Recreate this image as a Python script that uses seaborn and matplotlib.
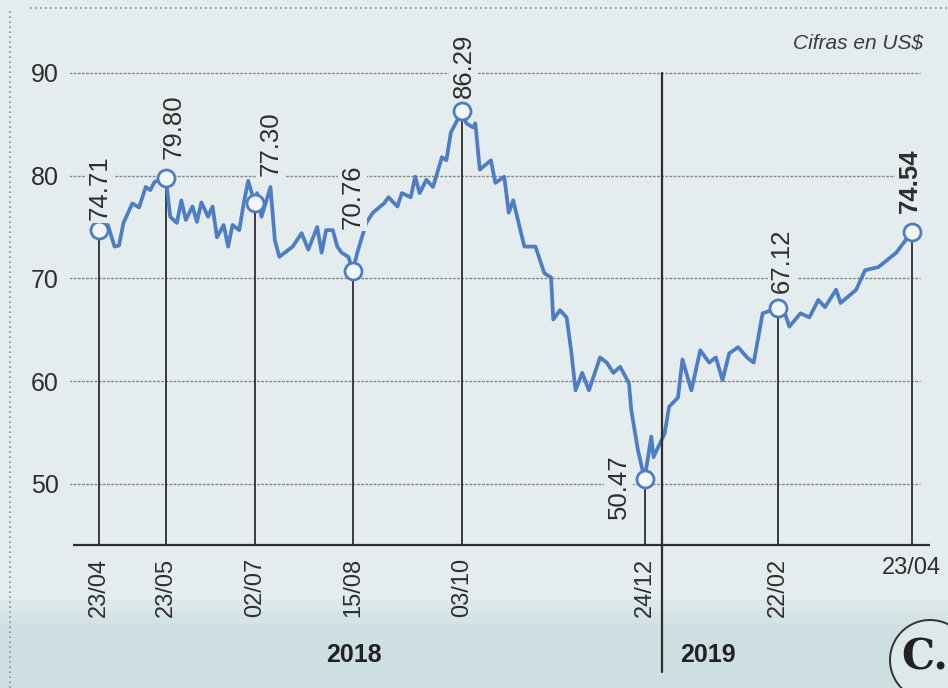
import pandas as pd
import matplotlib.pyplot as plt
import matplotlib.patches as mpatches
import matplotlib.lines as mlines
import seaborn as sns

# Daily price, US$
dates = [
    '2018-04-23', '2018-04-27', '2018-04-30', '2018-05-02', '2018-05-04', '2018-05-08',
    '2018-05-11', '2018-05-14', '2018-05-16', '2018-05-18', '2018-05-23', '2018-05-25',
    '2018-05-28', '2018-05-30', '2018-06-01', '2018-06-04', '2018-06-06', '2018-06-08',
    '2018-06-11', '2018-06-13', '2018-06-15', '2018-06-18', '2018-06-20', '2018-06-22',
    '2018-06-25', '2018-06-27', '2018-06-29', '2018-07-02', '2018-07-03', '2018-07-05',
    '2018-07-09', '2018-07-11', '2018-07-13', '2018-07-19', '2018-07-23', '2018-07-26',
    '2018-07-30', '2018-08-01', '2018-08-03', '2018-08-06', '2018-08-08', '2018-08-10',
    '2018-08-13', '2018-08-15', '2018-08-17', '2018-08-21', '2018-08-24', '2018-08-29',
    '2018-08-31', '2018-09-04', '2018-09-06', '2018-09-10', '2018-09-12', '2018-09-14',
    '2018-09-17', '2018-09-20', '2018-09-24', '2018-09-26', '2018-09-28', '2018-10-03',
    '2018-10-05', '2018-10-08', '2018-10-09', '2018-10-11', '2018-10-16', '2018-10-18',
    '2018-10-22', '2018-10-24', '2018-10-26', '2018-10-31', '2018-11-05', '2018-11-09',
    '2018-11-12', '2018-11-13', '2018-11-16', '2018-11-19', '2018-11-21', '2018-11-23',
    '2018-11-26', '2018-11-29', '2018-12-04', '2018-12-07', '2018-12-10', '2018-12-13',
    '2018-12-17', '2018-12-18', '2018-12-21', '2018-12-24', '2018-12-27', '2018-12-28',
    '2019-01-02', '2019-01-04', '2019-01-08', '2019-01-10', '2019-01-14', '2019-01-18',
    '2019-01-22', '2019-01-25', '2019-01-28', '2019-01-31', '2019-02-04', '2019-02-08',
    '2019-02-11', '2019-02-15', '2019-02-22', '2019-02-25', '2019-02-27', '2019-03-04',
    '2019-03-08', '2019-03-12', '2019-03-15', '2019-03-20', '2019-03-22', '2019-03-29',
    '2019-04-02', '2019-04-08', '2019-04-12', '2019-04-16', '2019-04-23',
]
prices = [
    74.71, 75.2, 73.1, 73.2, 75.4, 77.3,
    76.9, 78.9, 78.6, 79.4, 79.80, 76.0,
    75.4, 77.6, 75.7, 77.0, 75.5, 77.4,
    76.0, 77.0, 74.0, 75.2, 73.1, 75.2,
    74.7, 77.3, 79.5, 77.30, 78.3, 76.0,
    78.9, 73.7, 72.1, 73.1, 74.4, 72.8,
    75.0, 72.5, 74.7, 74.7, 73.1, 72.5,
    72.1, 70.76, 72.5, 75.4, 76.4, 77.3,
    77.9, 77.0, 78.3, 77.9, 79.9, 78.3,
    79.6, 78.9, 81.8, 81.5, 84.2, 86.29,
    85.1, 84.7, 85.1, 80.6, 81.5, 79.3,
    79.9, 76.4, 77.6, 73.1, 73.1, 70.5,
    70.1, 66.0, 66.9, 66.2, 63.0, 59.1,
    60.8, 59.1, 62.3, 61.8, 60.8, 61.4,
    59.8, 57.2, 53.3, 50.47, 54.6, 52.6,
    54.9, 57.5, 58.4, 62.1, 59.1, 63.0,
    61.8, 62.3, 60.1, 62.7, 63.3, 62.3,
    61.8, 66.6, 67.12, 66.6, 65.3, 66.6,
    66.2, 67.9, 67.2, 68.9, 67.6, 68.9,
    70.8, 71.1, 71.8, 72.5, 74.54,
]

# Highlighted points
key_dates = ['2018-04-23', '2018-05-23', '2018-07-02', '2018-08-15',
             '2018-10-03', '2018-12-24', '2019-02-22', '2019-04-23']
key_values = [74.71, 79.80, 77.30, 70.76, 86.29, 50.47, 67.12, 74.54]
tick_labels = ['23/04', '23/05', '02/07', '15/08', '03/10', '24/12', '22/02', '23/04']
y_ticks = [50, 60, 70, 80, 90]
years = ['2018', '2019']

df = pd.DataFrame({'date': pd.to_datetime(dates), 'price': prices})
key_df = pd.DataFrame({'date': pd.to_datetime(key_dates), 'price': key_values})

bg = '#e4ecee'
ink = '#2e2e2e'
blue = '#4d7ec4'

sns.set_theme(style='white')
plt.rcParams['font.family'] = ['Liberation Sans', 'DejaVu Sans']

fig = plt.figure(figsize=(9.48, 6.88), dpi=100, facecolor=bg)

# paper shading at the bottom (soft) + dotted cut borders
for k, c in enumerate(['#dbe7e8', '#d4e3e4', '#cddfe0']):
    h = (88 - 12 * k) / 688
    fig.patches.append(mpatches.Rectangle((0, 0), 1, h, transform=fig.transFigure,
                                          color=c, zorder=-10 + k))
fig.lines.append(mlines.Line2D([30 / 948, 1], [1 - 8 / 688] * 2, transform=fig.transFigure,
                               color='#8a8f90', lw=1.2, ls=(0, (1, 2))))
fig.lines.append(mlines.Line2D([10 / 948] * 2, [0, 1 - 8 / 688], transform=fig.transFigure,
                               color='#8a8f90', lw=1.2, ls=(0, (1, 2))))

ax = fig.add_axes([70 / 948, 143 / 688, 865 / 948, 525 / 688])
ax.set_facecolor('none')

start = pd.Timestamp(key_dates[0])
day = pd.Timedelta(days=1)
ybot = 44.04
ax.set_xlim(start - 13.0 * day, start + 375.4 * day)
ax.set_ylim(ybot, 95.16)

# grid lines and baseline
ax.hlines(y_ticks, start - 13.5 * day, start + 368.6 * day, color='#868686',
          lw=1.0, ls=(0, (2, 1)), zorder=1)
ax.hlines(ybot, start - 11.7 * day, start + 373.2 * day, color=ink, lw=1.6,
          clip_on=False, zorder=2)

# drop lines from highlighted points
ax.vlines(key_df['date'], ybot, key_df['price'], color=ink, lw=1.3, zorder=2)

# year divider
jan1 = pd.Timestamp('2019-01-01')
ax.plot([jan1, jan1], [90, 31.67], color=ink, lw=1.6, clip_on=False, zorder=4)

sns.lineplot(data=df, x='date', y='price', color=blue, lw=2.7, ax=ax, zorder=3)
sns.scatterplot(data=key_df, x='date', y='price', s=150, color='#f2f6f7',
                edgecolor=blue, linewidth=2, ax=ax, zorder=5)

# value labels
offsets = [(0.7, 7), (5.8, 13.7), (11.5, 20), (0, 30), (1.4, 9.4), (-18.7, -5.8),
           (2.9, 10.8), (-1.4, 13.7)]
for i, (d, v) in enumerate(zip(key_df['date'], key_values)):
    dx, dy = offsets[i]
    va = 'center' if i == 5 else 'bottom'
    ax.annotate(f'{v:.2f}', (d, v), xytext=(dx, dy), textcoords='offset points',
                rotation=90, ha='center', va=va, fontsize=18.5, color=ink,
                fontweight='bold' if i == len(key_values) - 1 else 'normal',
                bbox=dict(boxstyle='square,pad=0.1', fc=bg, ec='none'), zorder=6)

ax.set_xticks(key_df['date'])
ax.set_xticklabels(tick_labels, rotation=90)
ax.get_xticklabels()[-1].set_rotation(0)
ax.set_yticks(y_ticks)
ax.tick_params(axis='both', length=0, colors=ink, labelsize=18)
ax.tick_params(axis='x', pad=9, labelsize=17)
ax.tick_params(axis='y', pad=8)
ax.set_xlabel('')
ax.set_ylabel('')
for s in ax.spines.values():
    s.set_visible(False)

fig.text(923 / 948, 1 - 43 / 688, 'Cifras en US$', ha='right', va='center',
         style='italic', fontsize=15, color='#3a3a3a')
for yr, xp in zip(years, [354, 708]):
    fig.text(xp / 948, 1 - 655 / 688, yr, ha='center', va='center',
             fontweight='bold', fontsize=18, color='#222222')

# logo, cut by the edge
fig.patches.append(mpatches.Ellipse((930 / 948, 1 - 660 / 688), 80 / 948, 80 / 688,
                                    transform=fig.transFigure, fc='#dde8e9',
                                    ec='#333333', lw=1.4))
fig.text(925 / 948, 1 - 658 / 688, 'C.', ha='center', va='center', fontsize=30,
         fontweight='bold', family='DejaVu Serif', color='#222222')

fig.savefig('out.png', dpi=100, facecolor=bg)
